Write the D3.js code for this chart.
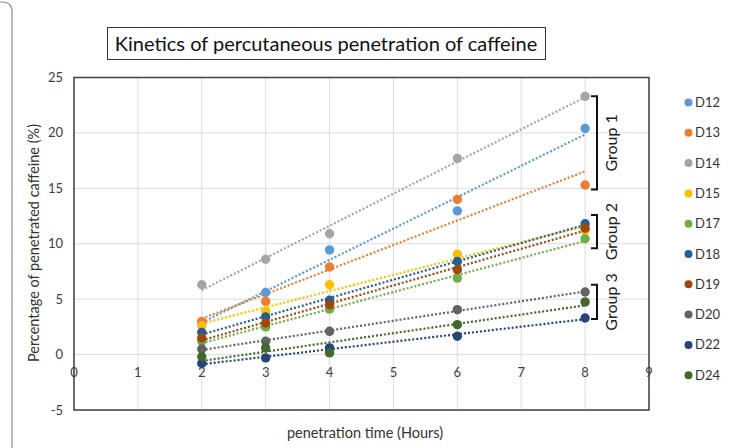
<!DOCTYPE html>
<html><head><meta charset="utf-8">
<script src="https://cdn.jsdelivr.net/npm/d3@7"></script>
<style>
html,body{margin:0;padding:0;background:#fff;}
svg{display:block;font-family:Lato, "Open Sans", sans-serif;}
</style></head>
<body><svg id="chart" width="731" height="448"></svg>
<script>
const times = [2, 3, 4, 6, 8];
const seriesNames = ["D12","D13","D14","D15","D17","D18","D19","D20","D22","D24"];
const seriesColors = ["#5B9BD5","#ED7D31","#A5A5A5","#FFC000","#70AD47","#255E91","#9E480E","#636363","#264478","#43682B"];
const D12 = [2.8, 5.6, 9.45, 12.97, 20.4];
const D13 = [3.0, 4.8, 7.9, 14.0, 15.3];
const D14 = [6.3, 8.6, 10.9, 17.7, 23.3];
const D15 = [2.6, 3.9, 6.3, 9.05, 11.2];
const D17 = [1.2, 2.5, 4.1, 6.9, 10.45];
const D18 = [2.0, 3.4, 4.9, 8.4, 11.8];
const D19 = [1.5, 2.85, 4.5, 7.65, 11.4];
const D20 = [0.5, 1.2, 2.1, 4.05, 5.65];
const D22 = [-0.8, -0.3, 0.6, 1.65, 3.3];
const D24 = [-0.2, 0.6, 0.15, 2.7, 4.75];
const seriesValues = [D12, D13, D14, D15, D17, D18, D19, D20, D22, D24];
const xTicks = [0,1,2,3,4,5,6,7,8,9];
const yTicks = [-5,0,5,10,15,20,25];
const groups = [
  {label:"Group 1", top:23.3, bottom:14.9},
  {label:"Group 2", top:12.6, bottom:9.6},
  {label:"Group 3", top:6.3, bottom:3.2}
];
const titleText = "Kinetics of percutaneous penetration of caffeine";
const xTitle = "penetration time (Hours)";
const yTitle = "Percentage of penetrated caffeine (%)";

const svg = d3.select("#chart");
const L = 74, R = 649, T = 77.5, B = 410;
const x = d3.scaleLinear().domain([0, 9]).range([L, R]);
const y = d3.scaleLinear().domain([-5, 25]).range([B, T]);

// outer frame (cropped chart border)
svg.append("path").attr("d","M12,448 L12,12 Q12,2 2,2 L0,2").attr("fill","none").attr("stroke","#8c8c8c").attr("stroke-width",1.2);

// gridlines
svg.append("g").selectAll("line").data(xTicks).join("line")
  .attr("x1", d=>x(d)).attr("x2", d=>x(d)).attr("y1", T).attr("y2", B)
  .attr("stroke","#dcdcdc").attr("stroke-width",1);
svg.append("g").selectAll("line").data(yTicks).join("line")
  .attr("x1", L).attr("x2", R).attr("y1", d=>y(d)).attr("y2", d=>y(d))
  .attr("stroke","#dcdcdc").attr("stroke-width",1);

// plot frame
svg.append("rect").attr("x",L).attr("y",T).attr("width",R-L).attr("height",B-T)
  .attr("fill","none").attr("stroke","#404040").attr("stroke-width",1.5);

// y tick labels
svg.append("g").selectAll("text").data(yTicks).join("text")
  .attr("x", 63).attr("y", d=>y(d)).attr("dy","0.35em").attr("text-anchor","end")
  .attr("font-size",13).attr("fill","#404040").text(d=>d);
// x tick labels (at the zero line)
svg.append("g").selectAll("text").data(xTicks).join("text")
  .attr("x", d=>x(d)).attr("y", y(0)+22).attr("text-anchor","middle")
  .attr("font-size",13).attr("fill","#404040").text(d=>d);

// axis titles
svg.append("text").attr("x", 365).attr("y", 438).attr("text-anchor","middle")
  .attr("font-size",14.5).attr("fill","#333").text(xTitle);
svg.append("text").attr("transform","translate(39,243) rotate(-90)").attr("text-anchor","middle")
  .attr("font-size",14.5).attr("fill","#333").text(yTitle);

// title with box
svg.append("rect").attr("x",107.5).attr("y",27.5).attr("width",438).attr("height",32)
  .attr("fill","#fff").attr("stroke","#333").attr("stroke-width",1);
svg.append("text").attr("x",326).attr("y",51).attr("text-anchor","middle")
  .attr("font-size",20).attr("fill","#111").text(titleText);

// linear regression
function fit(xs, ys){
  const mx = d3.mean(xs), my = d3.mean(ys);
  let sxy=0, sxx=0;
  xs.forEach((xi,i)=>{sxy+=(xi-mx)*(ys[i]-my); sxx+=(xi-mx)*(xi-mx);});
  const b = sxy/sxx; return {a: my-b*mx, b};
}

const gLines = svg.append("g"), gPts = svg.append("g");
seriesValues.forEach((vals, si)=>{
  const f = fit(times, vals);
  const x0 = d3.min(times), x1 = d3.max(times);
  gLines.append("line")
    .attr("x1", x(x0)).attr("y1", y(f.a+f.b*x0))
    .attr("x2", x(x1)).attr("y2", y(f.a+f.b*x1))
    .attr("stroke", seriesColors[si]).attr("stroke-width",2.2)
    .attr("stroke-dasharray","2,2");
});
seriesValues.forEach((vals, si)=>{
  gPts.append("g").selectAll("circle").data(vals).join("circle")
    .attr("cx",(d,i)=>x(times[i])).attr("cy",d=>y(d)).attr("r",4.7)
    .attr("fill",seriesColors[si]);
});

// group brackets
const bx = 597;
groups.forEach(g=>{
  const yt = y(g.top), yb = y(g.bottom);
  svg.append("path").attr("d",`M${bx-6},${yt} H${bx} V${yb} H${bx-6}`)
    .attr("fill","none").attr("stroke","#111").attr("stroke-width",2);
  svg.append("text").attr("transform",`translate(${bx+14},${(yt+yb)/2}) rotate(-90)`)
    .attr("text-anchor","middle").attr("dy","0.35em").attr("font-size",16).attr("fill","#222").text(g.label);
});

// legend
const lg = svg.append("g");
seriesNames.forEach((n,i)=>{
  const ly = 102.5 + i*30.3;
  lg.append("circle").attr("cx",688.5).attr("cy",ly).attr("r",4).attr("fill",seriesColors[i]);
  lg.append("text").attr("x",695).attr("y",ly).attr("dy","0.35em").attr("font-size",13).attr("fill","#333").text(n);
});
</script></body></html>
